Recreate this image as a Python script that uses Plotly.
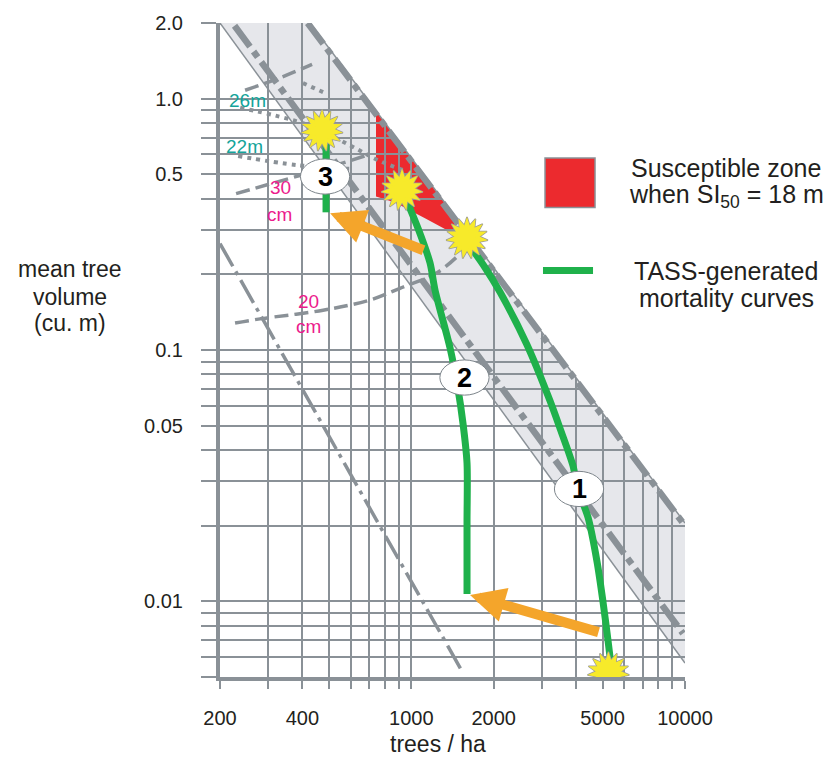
import numpy as np
import plotly.graph_objects as go

# ---------------- data ----------------
GRID_X = [200, 300, 400, 500, 600, 700, 800, 900,
          1000, 2000, 3000, 4000, 5000, 6000, 7000, 8000, 9000, 10000]
X_TICK_LABELS = {200: "200", 400: "400", 1000: "1000", 2000: "2000", 5000: "5000", 10000: "10000"}
GRID_Y = [0.005, 0.006, 0.007, 0.008, 0.009,
          0.01, 0.02, 0.03, 0.04, 0.05, 0.06, 0.07, 0.08, 0.09,
          0.1, 0.2, 0.3, 0.4, 0.5, 0.6, 0.7, 0.8, 0.9, 1.0, 2.0]
Y_TICK_LABELS = {0.01: "0.01", 0.05: "0.05", 0.1: "0.1", 0.5: "0.5", 1.0: "1.0", 2.0: "2.0"}

# density-management band (trees/ha, m3)
BAND_LOWER_X = [200, 10000]
BAND_LOWER_Y = [2.0, 0.00568]
BAND_UPPER_X = [427, 10000]
BAND_UPPER_Y = [2.0, 0.0205]

# heavy dash-dot limit lines
LIMIT_UPPER_X = [418, 10000]
LIMIT_UPPER_Y = [2.0, 0.0200]
LIMIT_MID_X = [226, 9834]
LIMIT_MID_Y = [1.95, 0.00745]
# thin dash-dot line
LIMIT_LOW_X = [200, 1545]
LIMIT_LOW_Y = [0.265, 0.00519]

# diameter isolines (dashed)
D40_X = [247, 331, 434]
D40_Y = [1.08, 1.21, 1.37]
D30_X = [229, 355, 505, 706]
D30_Y = [0.419, 0.480, 0.535, 0.601]
D20_X = [227, 280, 476, 706, 909, 1241, 1481]
D20_Y = [0.128, 0.133, 0.144, 0.158, 0.176, 0.203, 0.237]

# height isolines (dotted)
H30_X = [402, 484]
H30_Y = [1.153, 1.053]
H26_X = [237, 416, 597, 756, 949]
H26_Y = [0.920, 0.788, 0.652, 0.569, 0.516]
H22_X = [233, 382, 607]
H22_Y = [0.591, 0.544, 0.525]

# susceptible zone (SI50 = 18 m)
RED_X = [743, 1273, 1420, 1457, 1327, 1122, 872, 743]
RED_Y = [0.895, 0.426, 0.350, 0.295, 0.303, 0.334, 0.386, 0.408]

# TASS-generated mortality curves
CURVE1_X = [5410, 5232, 5014, 4770, 4422, 4064, 3898, 3494, 3212, 2646, 2109, 1859, 1598]
CURVE1_Y = [0.00518, 0.00699, 0.0100, 0.0144, 0.0216, 0.0278, 0.0346, 0.0488, 0.0628,
            0.105, 0.170, 0.213, 0.269]
CURVE2_X = [933, 1058, 1170, 1221, 1385, 1481, 1545, 1598, 1598, 1598]
CURVE2_Y = [0.426, 0.305, 0.2225, 0.173, 0.102, 0.070, 0.051, 0.0355, 0.0207, 0.0107]
CURVE3_X = [488, 488]
CURVE3_Y = [0.353, 0.73]

# mortality onset bursts
STAR_X = [472, 925, 1598, 5250]
STAR_Y = [0.747, 0.434, 0.279, 0.0052]

# numbered markers
LABEL_NUM = ["1", "2", "3"]
LABEL_X = [4100, 1564, 484]
LABEL_Y = [0.028, 0.0777, 0.49]

# thinning arrows (tail -> tip)
ARROW_TAIL_X = [4891, 1122]
ARROW_TAIL_Y = [0.00751, 0.248]
ARROW_TIP_X = [1639, 505]
ARROW_TIP_Y = [0.01059, 0.350]

# isoline labels
ISO_TEXT = ["26m", "22m", "30", "cm", "20", "cm"]
ISO_COLOR = ["#14a49a", "#14a49a", "#ec1c8c", "#ec1c8c", "#ec1c8c", "#ec1c8c"]
ISO_X = [251, 245, 334, 331, 421, 421]
ISO_Y = [0.984, 0.646, 0.442, 0.347, 0.156, 0.124]

# ---------------- style ----------------
GRAY = "#8a9197"
INK = "#231f20"
GREEN = "#1fb14b"
RED = "#ec2a2e"
ORANGE = "#f4a52b"
YELLOW = "#f7ea2a"
BAND = "#e6e7eb"
FONT = "Liberation Sans, Arial, sans-serif"
ELLIPSE_XF = 1.23   # half-width of number ellipses as a factor on the log axis
ELLIPSE_YF = 1.175

fig = go.Figure()

# white mask hides grid above the band
fig.add_trace(go.Scatter(
    x=[BAND_UPPER_X[0], BAND_UPPER_X[1], 14000, 14000, BAND_UPPER_X[0]],
    y=[BAND_UPPER_Y[0], BAND_UPPER_Y[1], BAND_UPPER_Y[1], 3.0, 3.0],
    fill="toself", fillcolor="white", mode="none", hoverinfo="skip", showlegend=False))

# band borders
for xs, ys in [(BAND_LOWER_X, BAND_LOWER_Y), (BAND_UPPER_X, BAND_UPPER_Y)]:
    fig.add_trace(go.Scatter(x=xs, y=ys, mode="lines",
                             line=dict(color=GRAY, width=1.5), hoverinfo="skip", showlegend=False))

# thin dash-dot line
fig.add_trace(go.Scatter(x=LIMIT_LOW_X, y=LIMIT_LOW_Y, mode="lines",
                         line=dict(color=GRAY, width=3.5, dash="26px,6px,4px,6px"),
                         hoverinfo="skip", showlegend=False))

# diameter isolines
for xs, ys in [(D40_X, D40_Y), (D30_X, D30_Y), (D20_X, D20_Y)]:
    fig.add_trace(go.Scatter(x=xs, y=ys, mode="lines",
                             line=dict(color=GRAY, width=3.5, dash="14px,6px", shape="spline"),
                             hoverinfo="skip", showlegend=False))
# height isolines
for xs, ys in [(H30_X, H30_Y), (H26_X, H26_Y), (H22_X, H22_Y)]:
    fig.add_trace(go.Scatter(x=xs, y=ys, mode="lines",
                             line=dict(color=GRAY, width=4, dash="4px,5px", shape="spline"),
                             hoverinfo="skip", showlegend=False))

# heavy limit lines
for xs, ys in [(LIMIT_UPPER_X, LIMIT_UPPER_Y), (LIMIT_MID_X, LIMIT_MID_Y)]:
    fig.add_trace(go.Scatter(x=xs, y=ys, mode="lines",
                             line=dict(color=GRAY, width=6.5, dash="26px,6px,7px,6px"),
                             hoverinfo="skip", showlegend=False))

# mortality curves
for xs, ys in [(CURVE1_X, CURVE1_Y), (CURVE2_X, CURVE2_Y), (CURVE3_X, CURVE3_Y)]:
    fig.add_trace(go.Scatter(x=xs, y=ys, mode="lines",
                             line=dict(color=GREEN, width=7, shape="spline", smoothing=0.8),
                             hoverinfo="skip", showlegend=False))

# bursts
for ang in [0, 24, 48]:
    fig.add_trace(go.Scatter(x=STAR_X, y=STAR_Y, mode="markers",
                             marker=dict(symbol="star", size=30, angle=ang, color=YELLOW,
                                         line=dict(color="#9a9a9a", width=1.5)),
                             hoverinfo="skip", showlegend=False))
for ang in [0, 24, 48]:
    fig.add_trace(go.Scatter(x=STAR_X, y=STAR_Y, mode="markers",
                             marker=dict(symbol="star", size=30, angle=ang, color=YELLOW,
                                         line=dict(width=0)),
                             hoverinfo="skip", showlegend=False))

shapes = []
# band fill and red zone below grid
band_pts = [(BAND_LOWER_X[0], BAND_LOWER_Y[0]), (BAND_UPPER_X[0], BAND_UPPER_Y[0]),
            (BAND_UPPER_X[1], BAND_UPPER_Y[1]), (BAND_LOWER_X[1], BAND_LOWER_Y[1])]
shapes.append(dict(type="path", xref="x", yref="y", layer="below",
                   path="M" + " L".join(f"{a},{b}" for a, b in band_pts) + " Z",
                   fillcolor=BAND, line=dict(width=0)))
shapes.append(dict(type="path", xref="x", yref="y", layer="below",
                   path="M" + " L".join(f"{a},{b}" for a, b in zip(RED_X, RED_Y)) + " Z",
                   fillcolor=RED, line=dict(width=0)))
# numbered ellipses
for lx, ly in zip(LABEL_X, LABEL_Y):
    shapes.append(dict(type="circle", xref="x", yref="y", layer="above",
                       x0=lx / ELLIPSE_XF, x1=lx * ELLIPSE_XF,
                       y0=ly / ELLIPSE_YF, y1=ly * ELLIPSE_YF,
                       fillcolor="white", line=dict(color="#7d858b", width=1)))
# legend symbols
shapes.append(dict(type="rect", xref="paper", yref="paper", x0=0.699, x1=0.8065, y0=0.718, y1=0.7934,
                   fillcolor=RED, line=dict(color=GRAY, width=1.5), layer="above"))
shapes.append(dict(type="line", xref="paper", yref="paper", x0=0.6946, x1=0.8022, y0=0.6214, y1=0.6214,
                   line=dict(color=GREEN, width=7), layer="above"))

annotations = []
for t, lx, ly in zip(LABEL_NUM, LABEL_X, LABEL_Y):
    annotations.append(dict(x=np.log10(lx), y=np.log10(ly), xref="x", yref="y", text=f"<b>{t}</b>",
                            showarrow=False, font=dict(size=27, color="black", family=FONT)))
for t, c, lx, ly in zip(ISO_TEXT, ISO_COLOR, ISO_X, ISO_Y):
    annotations.append(dict(x=np.log10(lx), y=np.log10(ly), xref="x", yref="y", text=t,
                            showarrow=False, font=dict(size=19, color=c, family=FONT)))
for tx, ty, hx, hy in zip(ARROW_TAIL_X, ARROW_TAIL_Y, ARROW_TIP_X, ARROW_TIP_Y):
    annotations.append(dict(x=np.log10(hx), y=np.log10(hy), ax=np.log10(tx), ay=np.log10(ty),
                            xref="x", yref="y", axref="x", ayref="y", text="", showarrow=True,
                            arrowhead=2, arrowsize=0.7, arrowwidth=10, arrowcolor=ORANGE, standoff=0))

text_items = [
    ("Susceptible zone", 1.0882, 0.7783, 25),
    ("when SI<sub>50</sub> = 18 m", 1.0882, 0.736, 25),
    ("TASS-generated", 1.0882, 0.6214, 25),
    ("mortality curves", 1.0882, 0.5792, 25),
    ("mean tree", -0.3226, 0.6244, 23),
    ("volume", -0.3226, 0.5807, 23),
    ("(cu. m)", -0.3226, 0.5415, 23),
    ("trees / ha", 0.4688, -0.1026, 23),
]
for t, px, py, fs in text_items:
    annotations.append(dict(x=px, y=py, xref="paper", yref="paper", text=t, showarrow=False,
                            xanchor="center", yanchor="middle",
                            font=dict(size=fs, color=INK, family=FONT)))

fig.update_layout(
    width=827, height=761,
    margin=dict(l=220, r=142, t=14, b=84),
    paper_bgcolor="white", plot_bgcolor="white",
    showlegend=False,
    shapes=shapes, annotations=annotations,
    font=dict(family=FONT, color=INK),
    xaxis=dict(type="log", range=[np.log10(200), np.log10(10000)],
               tickmode="array", tickvals=GRID_X,
               ticktext=[X_TICK_LABELS.get(v, "") for v in GRID_X],
               showgrid=True, gridcolor=GRAY, gridwidth=2,
               showline=True, linecolor=GRAY, linewidth=4,
               ticks="outside", ticklen=8, tickwidth=2, tickcolor=GRAY,
               tickfont=dict(size=20, color=INK, family=FONT), ticklabelstandoff=12,
               zeroline=False, layer="below traces", fixedrange=True),
    yaxis=dict(type="log", range=[np.log10(0.005), np.log10(2.0)],
               tickmode="array", tickvals=GRID_Y,
               ticktext=[Y_TICK_LABELS.get(v, "") for v in GRID_Y],
               showgrid=True, gridcolor=GRAY, gridwidth=2,
               showline=True, linecolor=GRAY, linewidth=4,
               ticks="outside", ticklen=15, tickwidth=2, tickcolor=GRAY,
               tickfont=dict(size=20, color=INK, family=FONT), ticklabelstandoff=14,
               zeroline=False, layer="below traces", fixedrange=True),
)

fig.write_html("out.html")
